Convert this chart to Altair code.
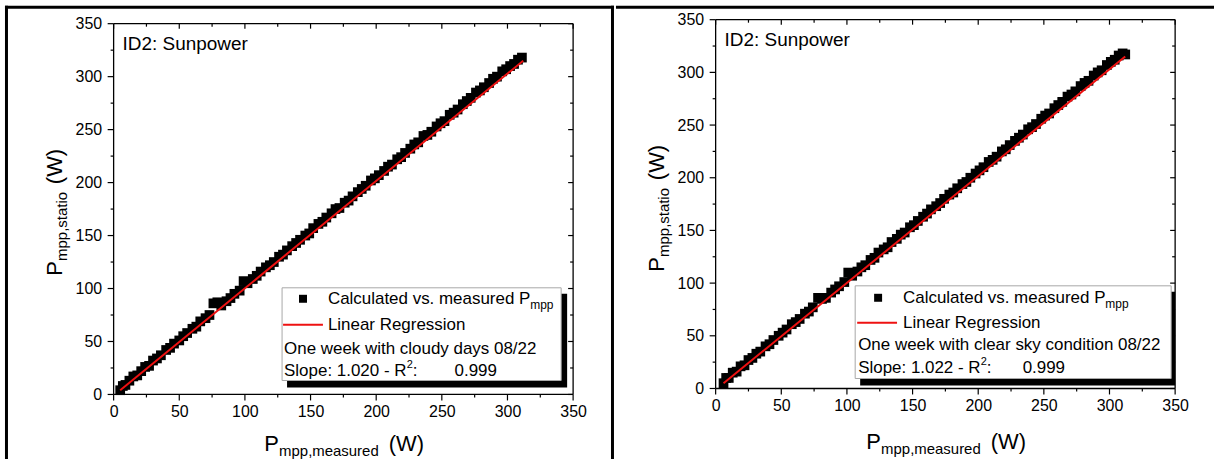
import altair as alt
import pandas as pd

FONT = "Liberation Sans"

# ---------------- data ----------------
major_ticks = [0, 50, 100, 150, 200, 250, 300, 350]
minor_ticks = [25, 75, 125, 175, 225, 275, 325]
frame_values = [0, 350]

left_measured = [5, 7, 9, 12, 15, 18, 21, 24, 27, 30, 33, 36, 40, 43, 46, 50, 53, 56, 60, 63,
                 66, 70, 73, 76, 79, 82, 86, 89, 92, 96, 99, 102, 106, 109, 112, 116, 119, 122, 126, 129,
                 132, 136, 139, 142, 146, 149, 152, 156, 159, 162, 166, 169, 172, 176, 179, 182, 186, 189, 192, 196,
                 199, 202, 206, 209, 212, 216, 219, 222, 226, 229, 232, 236, 239, 242, 246, 249, 252, 256, 259, 262,
                 266, 269, 272, 276, 279, 282, 286, 289, 292, 296, 299, 302, 305, 308, 311]
left_statio = [4, 8, 9, 13, 17, 18, 22, 26, 27, 32, 34, 37, 42, 44, 48, 51, 55, 58, 62, 64,
               69, 72, 75, 86, 87, 84, 88, 91, 95, 98, 107, 105, 109, 112, 116, 120, 122, 125, 130, 132,
               136, 140, 143, 146, 150, 152, 157, 161, 163, 167, 171, 175, 176, 181, 183, 187, 191, 194, 197, 202,
               204, 207, 211, 215, 217, 222, 224, 228, 232, 236, 238, 244, 245, 248, 253, 256, 258, 264, 266, 269,
               274, 277, 280, 285, 287, 290, 294, 298, 300, 305, 307, 310, 312, 316, 318]

right_measured = [6, 8, 10, 13, 16, 19, 22, 25, 28, 31, 34, 38, 41, 44, 48, 51, 54, 58, 61, 64,
                  68, 71, 74, 78, 81, 84, 88, 91, 94, 98, 101, 104, 108, 111, 114, 118, 121, 124, 128, 131,
                  134, 138, 141, 144, 148, 151, 154, 158, 161, 164, 168, 171, 174, 178, 181, 184, 188, 191, 194, 198,
                  201, 204, 208, 211, 214, 218, 221, 224, 228, 231, 234, 238, 241, 244, 248, 251, 254, 258, 261, 264,
                  268, 271, 274, 278, 281, 284, 288, 291, 294, 298, 301, 304, 307, 310, 312]
right_statio = [5, 10, 10, 15, 16, 21, 22, 27, 29, 33, 35, 40, 42, 46, 50, 53, 56, 61, 63, 66,
                71, 73, 77, 86, 85, 86, 91, 94, 97, 101, 110, 107, 111, 115, 117, 122, 124, 129, 132, 134,
                139, 142, 146, 148, 153, 155, 159, 163, 166, 170, 173, 176, 180, 184, 186, 190, 194, 196, 200, 204,
                207, 210, 215, 217, 220, 225, 227, 231, 235, 238, 241, 246, 248, 251, 256, 259, 261, 266, 269, 272,
                277, 279, 282, 287, 290, 292, 297, 300, 302, 307, 310, 312, 316, 318, 317]

left_reg_x = [5, 312]
left_reg_y = [4, 315]
right_reg_x = [6, 312]
right_reg_y = [5, 315]

panel_title = "ID2: Sunpower"
legend_series = "Calculated vs. measured P"
legend_sub = "mpp"
legend_line = "Linear Regression"
left_note = "One week with cloudy days 08/22"
right_note = "One week with clear sky condition 08/22"
left_slope = "Slope: 1.020 - R"
right_slope = "Slope: 1.022 - R"
r2_value = "0.999"
x_title_sub = "mpp,measured"
y_title_sub = "mpp,statio"

W = 461
one = pd.DataFrame({"k": [0]})
sx = alt.Scale(domain=[0, 350], nice=False, zero=False)

ax_common = dict(values=major_ticks, ticks=False, tickSize=0, domain=False, grid=False, title=None,
                 labelFont=FONT, labelFontSize=16, labelColor="black",
                 labelFlush=False, labelOverlap=False)
X_AXIS = alt.Axis(labelPadding=9, **ax_common)
Y_AXIS = alt.Axis(labelPadding=12, **ax_common)


def T(s, x, y, size=17, align="left", baseline="middle", angle=0):
    kw = dict(text=s, font=FONT, fontSize=size, align=align, baseline=baseline, color="black")
    if angle:
        kw["angle"] = angle
    return alt.Chart(one).mark_text(**kw).encode(x=alt.value(x), y=alt.value(y))


def R(x1, x2, y1, y2, **kw):
    return alt.Chart(one).mark_rect(**kw).encode(
        x=alt.value(x1), x2=alt.value(x2), y=alt.value(y1), y2=alt.value(y2))


def line(x1, x2, y1, y2, color="black", width=3):
    return alt.Chart(one).mark_rule(color=color, strokeWidth=width).encode(
        x=alt.value(x1), x2=alt.value(x2), y=alt.value(y1), y2=alt.value(y2))


def make_panel(meas, stat, rx, ry, H, top, bottom, c, extra):
    sy = alt.Scale(domain=[0, 350], range=[bottom, top], nice=False, zero=False)

    def xticks(values, y1, y2):
        return alt.Chart(pd.DataFrame({"t": values})).mark_rule(color="black", strokeWidth=1.2).encode(
            x=alt.X("t:Q", scale=sx, axis=X_AXIS), y=alt.value(y1), y2=alt.value(y2))

    def yticks(values, x1, x2):
        return alt.Chart(pd.DataFrame({"t": values})).mark_rule(color="black", strokeWidth=1.2).encode(
            y=alt.Y("t:Q", scale=sy, axis=Y_AXIS), x=alt.value(x1), x2=alt.value(x2))

    pts = pd.DataFrame({"m": meas, "s": stat})
    reg = pd.DataFrame({"m": rx, "s": ry})
    points = alt.Chart(pts).mark_square(size=95, color="black", opacity=1).encode(
        x=alt.X("m:Q", scale=sx, axis=X_AXIS),
        y=alt.Y("s:Q", scale=sy, axis=Y_AXIS),
    )
    regline = alt.Chart(reg).mark_line(color="#ee1111", strokeWidth=2).encode(
        x=alt.X("m:Q", scale=sx, axis=X_AXIS), y=alt.Y("s:Q", scale=sy, axis=Y_AXIS))
    # plot frame (box) drawn from the axis extremes
    fr = pd.DataFrame({"v": frame_values})
    fr2 = pd.DataFrame({"a": [frame_values[0]], "b": [frame_values[1]]})
    frame = [
        alt.Chart(fr).mark_rule(color="black", strokeWidth=1.3).encode(
            y=alt.Y("v:Q", scale=sy, axis=Y_AXIS), x=alt.value(0), x2=alt.value(W)),
        alt.Chart(fr2).mark_rule(color="black", strokeWidth=1.3).encode(
            y=alt.Y("a:Q", scale=sy, axis=Y_AXIS), y2="b:Q", x=alt.value(0)),
        alt.Chart(fr2).mark_rule(color="black", strokeWidth=1.3).encode(
            y=alt.Y("a:Q", scale=sy, axis=Y_AXIS), y2="b:Q", x=alt.value(W)),
    ]
    ticks = [
        xticks(major_ticks, bottom, bottom + 6), xticks(minor_ticks, bottom, bottom + 3),
        xticks(major_ticks, top, top + 5), xticks(minor_ticks, top, top + 3),
        yticks(major_ticks, 0, -6), yticks(minor_ticks, 0, -3),
        yticks(major_ticks, W, W - 5), yticks(minor_ticks, W, W - 3),
    ]
    o = top  # vertical offset of the panel's decorations
    legend = [
        R(c["sx1"], c["sx2"], c["sy1"] + o, c["sy2"] + o, color="black"),
        R(c["bx1"], c["bx2"], c["by1"] + o, c["by2"] + o, fill="white", stroke="#a8a8a8", strokeWidth=1),
        alt.Chart(one).mark_square(size=64, color="black", opacity=1).encode(
            x=alt.value(c["symx"]), y=alt.value(c["row1"] + o)),
        line(c["lx1"], c["lx2"], c["row2"] + o, c["row2"] + o, color="#ee1111", width=2),
        T(legend_series, c["tx"], c["row1"] + o),
        T(legend_sub, c["subx"], c["row1"] + 6 + o, size=12),
        T(legend_line, c["tx"], c["row2"] + o),
        T(c["note"], c["nx"], c["row3"] + o),
        T(c["slope"], c["nx"], c["row4"] + o),
        T("2", c["supx"], c["row4"] - 6 + o, size=11),
        T(":", c["supx"] + 6, c["row4"] + o),
        T(r2_value, c["r2x"], c["row4"] + o),
    ]
    titles = [
        T(panel_title, 9, 20 + o, size=19),
        # x-axis title
        T("P", 151, c["xt"] + o, size=22, baseline="alphabetic"),
        T(x_title_sub, 166, c["xt"] + 5 + o, size=15, baseline="alphabetic"),
        T("(W)", 276, c["xt"] + o, size=22, baseline="alphabetic"),
        # y-axis title (rotated)
        T("P", -52, 253 + o, size=22, baseline="alphabetic", angle=270),
        T(y_title_sub, -47, 238 + o, size=15, baseline="alphabetic", angle=270),
        T("(W)", -52, 161 + o, size=22, baseline="alphabetic", angle=270),
    ]
    return alt.layer(points, regline, *frame, *ticks, *legend, *titles, *extra).properties(
        width=W, height=H)


left_cfg = dict(sx1=174, sx2=455, sy1=271, sy2=365, bx1=169, bx2=449, by1=265, by2=358,
                symx=190, row1=276, row2=302, row3=326, row4=348, lx1=170, lx2=210,
                tx=215, subx=418, nx=171, supx=294, r2x=342,
                note=left_note, slope=left_slope, xt=429)
right_cfg = dict(sx1=145, sx2=461, sy1=273, sy2=367, bx1=140, bx2=457, by1=267, by2=360,
                 symx=163, row1=279, row2=304, row3=326, row4=349, lx1=142, lx2=182,
                 tx=188, subx=391, nx=143, supx=266, r2x=308,
                 note=right_note, slope=right_slope, xt=431)

# page borders (both panel origins at y=22; left x=113, right x=715)
left_extra = [
    R(-109, -106, -18, 437, color="black"),   # outer left border
    R(-109, 502, -18, -15, color="black"),    # top border (left part)
    R(499, 502, -18, 437, color="black"),     # divider between the two cells
]
right_extra = [
    R(-100, 500, -18, -15, color="black"),    # top border (right part)
]

left_panel = make_panel(left_measured, left_statio, left_reg_x, left_reg_y,
                        372, 0, 372, left_cfg, left_extra)
right_panel = make_panel(right_measured, right_statio, right_reg_x, right_reg_y,
                         366, -4, 366, right_cfg, right_extra)

chart = alt.concat(left_panel, right_panel, columns=2, spacing=0, align="none").properties(
    padding={"left": 4, "top": 4, "right": 0, "bottom": 0},
    autosize=alt.AutoSizeParams(type="pad"),
    background="white",
).configure_view(stroke="transparent")

chart.save("out.html", embed_options={"renderer": "svg", "actions": False})
